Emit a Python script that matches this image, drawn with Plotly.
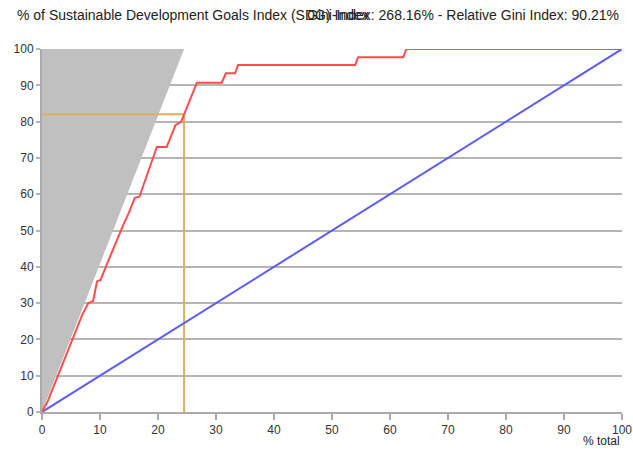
import plotly.graph_objects as go

# concentration curve (% total -> % of index)
curve_x = [0, 1, 2, 3, 4, 5, 6, 7, 8, 8.8, 9.5, 10.1, 11, 12, 13, 14, 15, 16, 16.8,
           17.5, 18.5, 19.8, 21.5, 22.2, 23, 24, 24.5, 25.5, 26.7, 31, 31.7, 33.3,
           33.8, 54, 54.5, 62.3, 62.8, 100]
curve_y = [0, 3, 7, 11, 15, 19, 23, 27, 30, 30.5, 36, 36.4, 40, 44, 48, 51.5, 55, 59, 59.3,
           62.5, 67, 73, 73, 76, 79, 80, 82, 86, 90.7, 90.7, 93.3, 93.3,
           95.6, 95.6, 97.7, 97.7, 100, 100]

max_x = [0, 24.5, 0]   # grey area: steepest possible curve
max_y = [0, 100, 100]
equal_x = [0, 100]
equal_y = [0, 100]
marker_x = [0, 24.5, 24.5]   # guide lines to the 82% point
marker_y = [82, 82, 0]

fig = go.Figure()

fig.add_trace(go.Scatter(x=max_x, y=max_y, fill="toself", fillcolor="#c0c0c0",
                         line=dict(width=0), mode="lines", hoverinfo="skip"))
fig.add_trace(go.Scatter(x=marker_x, y=marker_y, mode="lines",
                         line=dict(color="#d9b05a", width=2)))
fig.add_trace(go.Scatter(x=equal_x, y=equal_y, mode="lines",
                         line=dict(color="#5a5aff", width=2)))
fig.add_trace(go.Scatter(x=curve_x, y=curve_y, mode="lines",
                         line=dict(color="#ff4d4d", width=2)))

fig.update_layout(
    width=633, height=455,
    margin=dict(l=42, r=11, t=49, b=43, autoexpand=False),
    paper_bgcolor="white", plot_bgcolor="white",
    showlegend=False,
    font=dict(family="Liberation Sans, Arial", size=12, color="#333"),
)
fig.update_xaxes(range=[0, 100], tickvals=list(range(0, 101, 10)),
                 showgrid=False, zeroline=False, automargin=False,
                 showline=True, linecolor="#aaaaaa", linewidth=2,
                 ticks="outside", tickcolor="#aaaaaa", ticklen=6, tickwidth=2)
fig.update_yaxes(range=[0, 100], tickvals=list(range(0, 101, 10)),
                 showgrid=True, gridcolor="#b5b5b5", gridwidth=2, zeroline=False,
                 automargin=False,
                 showline=True, linecolor="#aaaaaa", linewidth=2,
                 ticks="outside", tickcolor="#b5b5b5", ticklen=4, tickwidth=2)

# the two header texts overlap in the original too
fig.add_annotation(text="% of Sustainable Development Goals Index (SDG) Index",
                   xref="paper", yref="paper", x=-0.047, y=1.095,
                   xanchor="left", yanchor="middle", showarrow=False,
                   font=dict(size=14, color="#222"))
fig.add_annotation(text="Gini-Index: 268.16% - Relative Gini Index: 90.21%",
                   xref="paper", yref="paper", x=0.998, y=1.095,
                   xanchor="right", yanchor="middle", showarrow=False,
                   font=dict(size=14, color="#222"))
fig.add_annotation(text="% total", xref="paper", yref="paper", x=1.0, y=-0.055,
                   xanchor="right", yanchor="top", showarrow=False,
                   font=dict(size=12, color="#222"))

fig.write_html("out.html", config={"displayModeBar": False},
               post_script="document.body.style.margin='0';document.body.style.overflow='hidden';")
